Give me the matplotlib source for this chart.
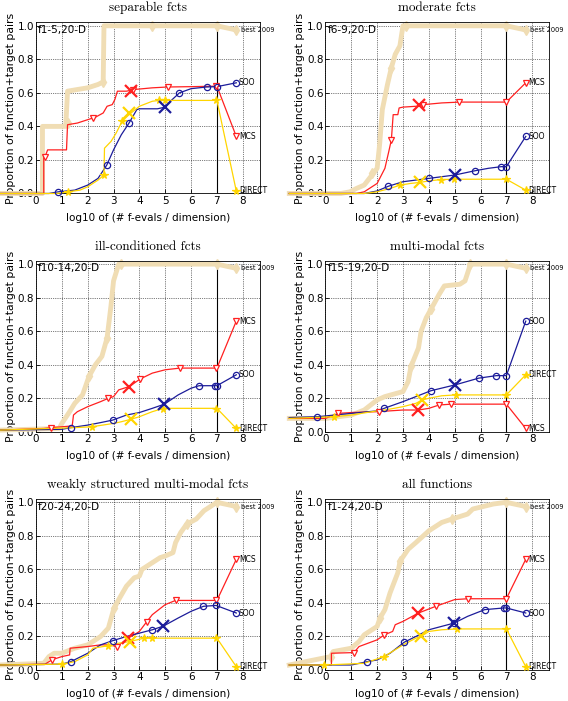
import matplotlib
matplotlib.use('Agg')
import matplotlib.pyplot as plt

#
# Data: (log10 evals/dim, proportion) points
#

LEFT = -1.4

# separable fcts
sep_best = [(LEFT, 0), (0.25, 0), (0.25, 0.40), (1.15, 0.40), (1.22, 0.61), (1.6, 0.62), (2.0, 0.63),
            (2.4, 0.65), (2.6, 0.665), (2.63, 1.0), (7.0, 1.0), (7.75, 0.975)]
sep_best_mk = [(1.22, 0.42), (2.6, 0.665), (4.5, 1.0), (7.0, 1.0), (7.75, 0.975)]
sep_mcs = [(LEFT, 0), (0.3, 0), (0.3, 0.22), (0.35, 0.22), (0.45, 0.26), (1.18, 0.26), (1.22, 0.41),
           (1.6, 0.42), (2.0, 0.44), (2.3, 0.455), (2.6, 0.48), (2.75, 0.52), (2.95, 0.53), (3.05, 0.56),
           (3.15, 0.61), (3.5, 0.61), (3.8, 0.62), (4.5, 0.63), (5.1, 0.635), (6.0, 0.637), (7.0, 0.64),
           (7.75, 0.34)]
sep_mcs_mk = [(0.33, 0.22), (2.22, 0.453), (3.77, 0.62), (5.1, 0.635), (6.97, 0.64), (7.75, 0.34)]
sep_soo = [(LEFT, 0), (0.5, 0), (0.87, 0.01), (1.5, 0.02), (2.0, 0.05), (2.4, 0.09), (2.74, 0.17),
           (3.0, 0.26), (3.3, 0.35), (3.6, 0.42), (3.9, 0.5), (4.0, 0.505), (4.7, 0.505), (5.0, 0.515),
           (5.2, 0.55), (5.55, 0.6), (6.0, 0.625), (6.6, 0.635), (7.0, 0.637), (7.75, 0.66)]
sep_soo_mk = [(0.87, 0.01), (2.74, 0.17), (3.6, 0.42), (5.55, 0.6), (6.6, 0.635), (7.0, 0.637), (7.75, 0.66)]
sep_dir = [(LEFT, 0), (0.8, 0), (1.25, 0.01), (1.7, 0.02), (2.0, 0.04), (2.4, 0.08), (2.63, 0.11),
           (2.65, 0.27), (2.9, 0.31), (3.1, 0.36), (3.33, 0.43), (3.6, 0.47), (4.0, 0.52), (4.5, 0.55),
           (4.77, 0.555), (7.0, 0.555), (7.75, 0.015)]
sep_dir_mk = [(1.25, 0.01), (2.63, 0.11), (3.33, 0.43), (4.77, 0.555), (5.0, 0.555), (6.97, 0.555), (7.75, 0.015)]
sep_cross = [(3.68, 0.61), (5.0, 0.515), (3.6, 0.48)]   # MCS, SOO, DIRECT

# moderate fcts
mod_best = [(LEFT, 0), (0.6, 0), (0.95, 0.01), (1.2, 0.03), (1.5, 0.05), (1.8, 0.11), (2.0, 0.15),
            (2.1, 0.3), (2.2, 0.5), (2.4, 0.65), (2.55, 0.75), (2.7, 0.83), (2.88, 0.88), (2.95, 0.95),
            (3.0, 1.0), (7.0, 1.0), (7.75, 0.975)]
mod_best_mk = [(1.8, 0.12), (2.55, 0.75), (3.1, 1.0), (7.0, 1.0), (7.75, 0.975)]
mod_mcs = [(LEFT, 0), (1.2, 0), (1.5, 0.01), (2.0, 0.06), (2.3, 0.15), (2.45, 0.25), (2.55, 0.32),
           (2.62, 0.47), (2.8, 0.47), (2.85, 0.51), (3.0, 0.515), (3.5, 0.52), (3.8, 0.53), (4.5, 0.54),
           (5.2, 0.545), (7.0, 0.545), (7.75, 0.66)]
mod_mcs_mk = [(2.54, 0.32), (3.79, 0.53), (5.18, 0.545), (6.99, 0.545), (7.75, 0.66)]
mod_soo = [(LEFT, 0), (1.5, 0), (2.0, 0.015), (2.43, 0.043), (3.0, 0.07), (3.5, 0.08), (4.0, 0.09),
           (4.5, 0.1), (5.0, 0.11), (5.77, 0.135), (6.3, 0.15), (6.81, 0.16), (7.0, 0.16), (7.75, 0.34)]
mod_soo_mk = [(2.43, 0.043), (3.99, 0.09), (5.77, 0.135), (6.81, 0.16), (6.99, 0.16), (7.75, 0.34)]
mod_dir = [(LEFT, 0), (1.5, 0), (2.0, 0.01), (2.5, 0.03), (2.89, 0.05), (3.3, 0.06), (3.66, 0.066),
           (4.0, 0.075), (4.47, 0.083), (4.96, 0.085), (7.0, 0.085), (7.75, 0.02)]
mod_dir_mk = [(2.89, 0.05), (4.47, 0.083), (4.96, 0.085), (6.99, 0.085), (7.75, 0.02)]
mod_cross = [(3.62, 0.525), (5.0, 0.11), (3.66, 0.066)]

# ill-conditioned fcts
ill_best = [(LEFT, 0.01), (0.9, 0.02), (1.0, 0.05), (1.3, 0.12), (1.5, 0.17), (1.8, 0.22), (2.05, 0.33),
            (2.3, 0.4), (2.55, 0.45), (2.75, 0.56), (2.9, 0.75), (3.0, 0.9), (3.2, 1.0), (7.0, 1.0),
            (7.75, 0.975)]
ill_best_mk = [(2.05, 0.33), (2.75, 0.56), (3.3, 1.0), (7.0, 1.0), (7.75, 0.975)]
ill_mcs = [(LEFT, 0.01), (0.3, 0.02), (0.58, 0.025), (1.0, 0.03), (1.4, 0.035), (1.45, 0.1), (1.6, 0.12),
           (2.0, 0.15), (2.5, 0.18), (2.8, 0.2), (3.0, 0.21), (3.2, 0.25), (3.61, 0.27), (4.03, 0.315),
           (4.5, 0.35), (5.0, 0.37), (5.57, 0.38), (7.0, 0.38), (7.75, 0.66)]
ill_mcs_mk = [(0.58, 0.025), (2.8, 0.2), (4.03, 0.315), (5.57, 0.38), (6.97, 0.38), (7.75, 0.66)]
ill_soo = [(LEFT, 0.01), (1.0, 0.015), (1.35, 0.025), (2.0, 0.04), (2.5, 0.055), (2.97, 0.07), (3.5, 0.1),
           (4.0, 0.115), (4.5, 0.14), (4.97, 0.165), (5.5, 0.22), (6.0, 0.26), (6.31, 0.275), (7.0, 0.275),
           (7.75, 0.34)]
ill_soo_mk = [(1.35, 0.025), (2.97, 0.068), (6.31, 0.275), (6.93, 0.275), (7.02, 0.275), (7.75, 0.34)]
ill_dir = [(LEFT, 0.01), (1.5, 0.025), (2.15, 0.03), (3.0, 0.05), (3.3, 0.06), (3.68, 0.075), (4.0, 0.09),
           (4.5, 0.12), (4.93, 0.14), (7.0, 0.14), (7.75, 0.02)]
ill_dir_mk = [(2.15, 0.03), (4.93, 0.138), (6.97, 0.138), (7.75, 0.02)]
ill_cross = [(3.61, 0.27), (4.97, 0.166), (3.68, 0.074)]

# multi-modal fcts
mul_best = [(LEFT, 0.08), (0.0, 0.08), (1.0, 0.1), (1.5, 0.13), (2.0, 0.19), (2.3, 0.21), (3.0, 0.24),
            (3.2, 0.3), (3.31, 0.39), (3.6, 0.5), (3.7, 0.6), (3.9, 0.68), (4.08, 0.73), (4.4, 0.82),
            (4.6, 0.87), (5.2, 0.88), (5.4, 0.9), (5.55, 0.97), (5.6, 1.0), (7.0, 1.0), (7.75, 0.975)]
mul_best_mk = [(3.31, 0.39), (4.08, 0.73), (5.6, 1.0), (7.0, 1.0), (7.75, 0.975)]
mul_mcs = [(LEFT, 0.08), (0.0, 0.08), (0.49, 0.11), (1.0, 0.115), (2.0, 0.12), (3.0, 0.13), (3.6, 0.13),
           (4.0, 0.14), (4.4, 0.16), (4.87, 0.165), (7.0, 0.165), (7.75, 0.02)]
mul_mcs_mk = [(0.49, 0.11), (2.07, 0.12), (4.4, 0.162), (4.87, 0.165), (6.99, 0.165), (7.75, 0.02)]
mul_soo = [(LEFT, 0.085), (-0.31, 0.09), (1.0, 0.11), (2.0, 0.125), (2.27, 0.14), (3.0, 0.18), (3.5, 0.21),
           (4.08, 0.245), (5.02, 0.28), (5.93, 0.32), (6.61, 0.335), (7.0, 0.335), (7.75, 0.66)]
mul_soo_mk = [(-0.31, 0.09), (2.27, 0.14), (4.08, 0.245), (5.93, 0.32), (6.61, 0.335), (6.99, 0.335), (7.75, 0.66)]
mul_dir = [(LEFT, 0.08), (0.34, 0.09), (1.0, 0.1), (2.0, 0.125), (2.3, 0.13), (3.0, 0.15), (3.5, 0.17),
           (3.75, 0.19), (4.0, 0.2), (4.5, 0.215), (5.05, 0.22), (7.0, 0.22), (7.75, 0.34)]
mul_dir_mk = [(0.34, 0.09), (5.05, 0.22), (6.99, 0.22), (7.75, 0.34)]
mul_cross = [(3.6, 0.13), (5.02, 0.28), (3.75, 0.188)]

# weakly structured multi-modal fcts
wk_best = [(LEFT, 0.03), (0.3, 0.04), (0.5, 0.08), (0.7, 0.1), (1.0, 0.1), (1.5, 0.13), (2.0, 0.15),
           (2.5, 0.2), (2.8, 0.25), (3.0, 0.36), (3.2, 0.42), (3.5, 0.5), (3.8, 0.55), (4.0, 0.56),
           (4.1, 0.6), (4.5, 0.64), (4.8, 0.67), (5.0, 0.68), (5.3, 0.7), (5.4, 0.76), (5.6, 0.82),
           (5.83, 0.87), (6.2, 0.9), (6.5, 0.95), (6.8, 0.98), (7.0, 1.0), (7.75, 0.975)]
wk_best_mk = [(3.0, 0.37), (5.83, 0.87), (7.0, 1.0), (7.75, 0.975)]
wk_mcs = [(LEFT, 0.03), (0.35, 0.035), (0.63, 0.062), (1.0, 0.08), (1.3, 0.09), (1.32, 0.13), (2.0, 0.14),
          (2.5, 0.15), (2.8, 0.15), (3.15, 0.14), (3.3, 0.16), (3.55, 0.19), (3.8, 0.21), (4.0, 0.23),
          (4.28, 0.287), (4.5, 0.33), (5.0, 0.39), (5.4, 0.415), (7.0, 0.415), (7.75, 0.66)]
wk_mcs_mk = [(0.63, 0.062), (3.15, 0.14), (4.28, 0.287), (5.4, 0.415), (6.97, 0.415), (7.75, 0.66)]
wk_soo = [(LEFT, 0.03), (1.0, 0.035), (1.35, 0.05), (2.0, 0.1), (2.5, 0.15), (2.97, 0.175), (3.5, 0.2),
          (4.0, 0.22), (4.5, 0.24), (4.93, 0.262), (5.5, 0.31), (6.0, 0.35), (6.48, 0.38), (6.97, 0.385),
          (7.75, 0.34)]
wk_soo_mk = [(1.35, 0.05), (2.97, 0.175), (4.5, 0.24), (6.48, 0.38), (6.97, 0.385), (7.75, 0.34)]
wk_dir = [(LEFT, 0.03), (1.0, 0.035), (1.5, 0.05), (2.0, 0.09), (2.2, 0.13), (2.8, 0.145), (3.2, 0.16),
          (3.64, 0.17), (4.18, 0.19), (4.5, 0.19), (7.0, 0.19), (7.75, 0.02)]
wk_dir_mk = [(1.0, 0.035), (2.8, 0.145), (4.18, 0.19), (4.5, 0.19), (6.97, 0.19), (7.75, 0.02)]
wk_cross = [(3.55, 0.188), (4.93, 0.262), (3.64, 0.17)]

# all functions
all_best = [(LEFT, 0.03), (0.2, 0.08), (0.3, 0.11), (1.0, 0.13), (1.3, 0.17), (1.5, 0.21), (2.0, 0.26),
            (2.11, 0.31), (2.3, 0.36), (2.5, 0.46), (2.8, 0.58), (2.89, 0.65), (3.2, 0.72), (3.5, 0.76),
            (4.0, 0.83), (4.5, 0.88), (4.89, 0.9), (5.5, 0.93), (5.7, 0.96), (6.5, 0.99), (7.0, 1.0),
            (7.75, 0.975)]
all_best_mk = [(0.2, 0.08), (2.11, 0.31), (2.89, 0.65), (4.89, 0.9), (7.0, 1.0), (7.75, 0.975)]
all_mcs = [(LEFT, 0.03), (0.23, 0.03), (0.23, 0.1), (1.1, 0.104), (1.3, 0.14), (2.0, 0.18), (2.28, 0.21),
           (2.6, 0.23), (2.7, 0.27), (3.0, 0.29), (3.6, 0.34), (4.27, 0.38), (5.0, 0.42), (5.51, 0.425),
           (7.0, 0.425), (7.75, 0.66)]
all_mcs_mk = [(1.1, 0.104), (2.28, 0.21), (4.27, 0.38), (5.51, 0.425), (6.97, 0.425), (7.75, 0.66)]
all_soo = [(LEFT, 0.03), (1.0, 0.03), (1.62, 0.05), (2.0, 0.06), (2.5, 0.1), (3.05, 0.166), (3.5, 0.2),
           (4.0, 0.24), (4.98, 0.28), (5.5, 0.32), (6.16, 0.36), (6.9, 0.37), (7.0, 0.37), (7.75, 0.34)]
all_soo_mk = [(1.62, 0.05), (3.05, 0.166), (4.98, 0.28), (6.16, 0.36), (6.9, 0.37), (7.0, 0.37), (7.75, 0.34)]
all_dir = [(LEFT, 0.03), (0.0, 0.03), (1.5, 0.04), (2.27, 0.08), (3.0, 0.15), (3.5, 0.19), (3.7, 0.2),
           (4.0, 0.23), (4.5, 0.24), (5.09, 0.245), (7.0, 0.245), (7.75, 0.02)]
all_dir_mk = [(-0.05, 0.03), (2.27, 0.08), (5.09, 0.245), (6.97, 0.245), (7.75, 0.02)]
all_cross = [(3.6, 0.34), (4.98, 0.28), (3.7, 0.2)]

titles = ['separable fcts', 'moderate fcts', 'ill-conditioned fcts', 'multi-modal fcts',
          'weakly structured multi-modal fcts', 'all functions']
tags = ['f1-5,20-D', 'f6-9,20-D', 'f10-14,20-D', 'f15-19,20-D', 'f20-24,20-D', 'f1-24,20-D']

panels = [
    (sep_best, sep_best_mk, sep_mcs, sep_mcs_mk, sep_soo, sep_soo_mk, sep_dir, sep_dir_mk, sep_cross),
    (mod_best, mod_best_mk, mod_mcs, mod_mcs_mk, mod_soo, mod_soo_mk, mod_dir, mod_dir_mk, mod_cross),
    (ill_best, ill_best_mk, ill_mcs, ill_mcs_mk, ill_soo, ill_soo_mk, ill_dir, ill_dir_mk, ill_cross),
    (mul_best, mul_best_mk, mul_mcs, mul_mcs_mk, mul_soo, mul_soo_mk, mul_dir, mul_dir_mk, mul_cross),
    (wk_best, wk_best_mk, wk_mcs, wk_mcs_mk, wk_soo, wk_soo_mk, wk_dir, wk_dir_mk, wk_cross),
    (all_best, all_best_mk, all_mcs, all_mcs_mk, all_soo, all_soo_mk, all_dir, all_dir_mk, all_cross),
]

BEST_C = '#F0DDB4'
MCS_C = '#FF2020'
SOO_C = '#1C1C9A'
DIR_C = '#FFD500'


#
# Helpers
#

def xs(pts):
    return [p[0] for p in pts]


def ys(pts):
    return [p[1] for p in pts]


def draw_curve(ax, pts, mk, color, marker, lw, ms, mfc, label):
    ax.plot(xs(pts), ys(pts), '-', color=color, lw=lw, clip_on=False, zorder=3)
    ax.plot(xs(mk), ys(mk), linestyle='none', marker=marker, ms=ms, mec=color, mfc=mfc,
            mew=0.9, clip_on=False, zorder=4)
    ax.text(7.85, pts[-1][1], label, fontsize=5.5, ha='left', va='center', clip_on=False)


def draw_panel(ax, data, title, tag):
    best, best_mk, mcs, mcs_mk, soo, soo_mk, dr, dr_mk, cross = data

    ax.plot(xs(best), ys(best), '-', color=BEST_C, lw=3.5, clip_on=False, zorder=2)
    ax.plot(xs(best_mk), ys(best_mk), linestyle='none', marker='d', ms=5, color=BEST_C,
            clip_on=False, zorder=2)
    ax.text(7.92, best[-1][1], 'best 2009', fontsize=4.8, ha='left', va='center', clip_on=False)

    draw_curve(ax, mcs, mcs_mk, MCS_C, 'v', 0.9, 4.5, 'white', 'MCS')
    draw_curve(ax, soo, soo_mk, SOO_C, 'o', 0.9, 4.5, 'none', 'SOO')
    draw_curve(ax, dr, dr_mk, DIR_C, '*', 0.9, 5.5, DIR_C, 'DIRECT')

    for (cx, cy), col in zip(cross, [MCS_C, SOO_C, DIR_C]):
        ax.plot(cx, cy, marker='x', ms=9, mew=1.6, color=col, zorder=5, clip_on=False)

    ax.axvline(7, color='k', lw=0.8, zorder=1)
    ax.set_xlim(0, 8.66)
    ax.set_ylim(0, 1.02)
    ax.set_xticks(range(9))
    ax.set_yticks([0, 0.2, 0.4, 0.6, 0.8, 1.0])
    ax.set_yticklabels(['0.0', '0.2', '0.4', '0.6', '0.8', '1.0'])
    ax.tick_params(labelsize=7.5, length=3, width=0.6, direction='in', pad=1.5)
    ax.grid(True, color='k', linestyle=':', lw=0.5)
    for sp in ax.spines.values():
        sp.set_linewidth(0.6)
    ax.set_xlabel('log10 of (# f-evals / dimension)', fontsize=7.5, labelpad=5)
    ax.set_ylabel('Proportion of function+target pairs', fontsize=7.8, labelpad=1)
    ax.set_title(title, fontsize=9.5, family='cmr10', pad=8)
    ax.text(0.01, 0.985, tag, transform=ax.transAxes, fontsize=7.5, ha='left', va='top')


fig = plt.figure(figsize=(5.68, 7.01), dpi=100)

lefts = [0.0634, 0.573]
bottoms = [0.724, 0.384, 0.0442]
W, H = 0.394, 0.244

for i, data in enumerate(panels):
    ax = fig.add_axes([lefts[i % 2], bottoms[i // 2], W, H])
    draw_panel(ax, data, titles[i], tags[i])

fig.savefig('out.png', dpi=100)
